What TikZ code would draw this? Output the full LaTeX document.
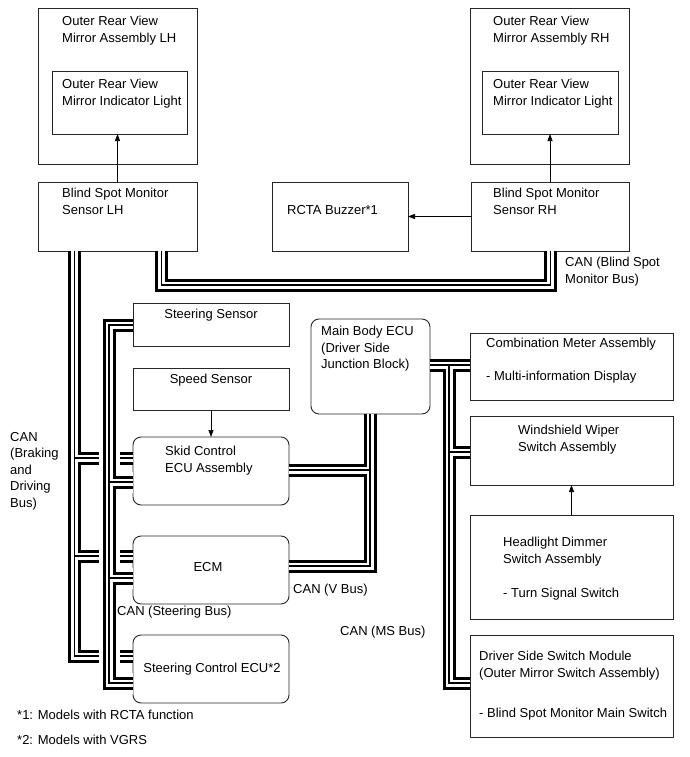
\documentclass[tikz,border=0pt]{standalone}
\usepackage{fontspec}
\setmainfont{Liberation Sans}
\usetikzlibrary{arrows.meta}
\newcommand\busdraw[1]{%
  \draw[line width=13pt,black] #1;
  \draw[line width=7pt,white] #1;
  \draw[line width=1.1pt,black] #1;}
\newcommand\busdrawhalo[1]{%
  \draw[line width=21pt,white] #1;
  \busdraw{#1}}
\begin{document}
\begin{tikzpicture}[x=1pt,y=-1pt,
  box/.style={draw=black!85,line width=0.9pt,inner sep=0pt,outer sep=0pt,anchor=north west},
  rbox/.style={box,rounded corners=8pt},
  txt/.style={inner sep=0pt,anchor=north west,align=left,font=\fontsize{13}{16.5}\selectfont},
  ctxt/.style={txt,anchor=north,align=center},
  arr/.style={line width=0.7pt,-{Triangle[length=7pt,width=5pt]}}]
\useasboundingbox (0,0) rectangle (690,757);

% ---------- boxes (named) ----------
\node[box,minimum width=159pt,minimum height=156pt] (lhout) at (38,8) {};
\node[box,minimum width=135pt,minimum height=63pt] (lhin) at (52,71) {};
\node[box,minimum width=159pt,minimum height=156pt] (rhout) at (470,8) {};
\node[box,minimum width=136pt,minimum height=63pt] (rhin) at (482,71) {};
\node[box,minimum width=159pt,minimum height=69pt] (bsml) at (38,182) {};
\node[box,minimum width=158pt,minimum height=69pt] (bsmr) at (471,182) {};
\node[box,minimum width=136pt,minimum height=69pt] (buzz) at (272,182) {};
\node[box,minimum width=156pt,minimum height=43pt] (steer) at (133,303) {};
\node[box,minimum width=156pt,minimum height=42pt] (speed) at (133,368) {};
\node[rbox,minimum width=156pt,minimum height=68pt] (skid) at (133,437) {};
\node[rbox,minimum width=156pt,minimum height=68pt] (ecm) at (133,536) {};
\node[rbox,minimum width=156pt,minimum height=68pt] (sce) at (133,635) {};
\node[rbox,minimum width=119pt,minimum height=95pt] (mb) at (311,319) {};
\node[box,minimum width=203pt,minimum height=67pt] (cm) at (470,333) {};
\node[box,minimum width=203pt,minimum height=69pt] (ww) at (470,416) {};
\node[box,minimum width=203pt,minimum height=104pt] (hd) at (470,515) {};
\node[box,minimum width=203pt,minimum height=102pt] (ds) at (470,635) {};

% ---------- CAN buses ----------
\coordinate (bs1) at (161.5,285);
\coordinate (bs2) at (550.5,285);
\busdraw{(bs1 |- bsml.south) -- (bs1) -- (bs2) -- (bs2 |- bsmr.south)}

\coordinate (B0) at (74.5,656);
\coordinate (Bk) at (74.5,458);
\coordinate (Be) at (74.5,556);
\busdraw{(B0 |- bsml.south) -- (B0) -- (B0 -| sce.west) (Bk) -- (Bk -| skid.west) (Be) -- (Be -| ecm.west)}

\coordinate (S0) at (109,325);
\coordinate (S1) at (109,683);
\coordinate (Sk) at (109,482);
\coordinate (Se) at (109,578);
\busdrawhalo{(S0 -| steer.west) -- (S0) -- (S1) -- (S1 -| sce.west) (Sk) -- (Sk -| skid.west) (Se) -- (Se -| ecm.west)}

\coordinate (V0) at (370,566);
\coordinate (Vk) at (370,470);
\busdraw{(V0 |- mb.south) -- (V0) -- (V0 -| ecm.east) (Vk) -- (Vk -| skid.east)}

\coordinate (M0) at (449,365);
\coordinate (M1) at (449,683);
\coordinate (Mw) at (449,452);
\busdraw{(M0 -| mb.east) -- (M0 -| cm.west) (M0) -- (M1) -- (M1 -| ds.west) (Mw) -- (Mw -| ww.west)}

% ---------- arrows ----------
\draw[arr] (bsml.north) -- (bsml.north |- lhin.south);
\draw[arr] (bsmr.north) -- (bsmr.north |- rhin.south);
\draw[arr] (bsmr.west) -- (bsmr.west -| buzz.east);
\draw[arr] (speed.south) -- (skid.north);
\draw[arr] (hd.north) -- (ww.south);

% ---------- texts ----------
\node[txt] (t1) at (62,16) {Outer Rear View\\Mirror Assembly LH};
\node[txt] (t2) at (62,79) {Outer Rear View\\Mirror Indicator Light};
\node[txt] (t3) at (493,16) {Outer Rear View\\Mirror Assembly RH};
\node[txt] (t4) at (493,79) {Outer Rear View\\Mirror Indicator Light};
\node[txt] (t5) at (62,188) {Blind Spot Monitor\\Sensor LH};
\node[txt] (t6) at (493,188) {Blind Spot Monitor\\Sensor RH};
\node[txt] (t7) at (287,205) {RCTA Buzzer*1};
\node[txt] (t8) at (565,257) {CAN (Blind Spot\\Monitor Bus)};
\node[ctxt] (t9) at (211,309) {Steering Sensor};
\node[ctxt] (t10) at (211,374) {Speed Sensor};
\node[txt] (t11) at (165,446) {Skid Control\\ECU Assembly};
\node[ctxt] (t12) at (208,562) {ECM};
\node[ctxt] (t13) at (212,663) {Steering Control ECU*2};
\node[txt] (t14) at (321,326) {Main Body ECU\\(Driver Side\\Junction Block)};
\node[txt] (t15) at (486,338) {Combination Meter Assembly};
\node[txt] (t16) at (486,371) {- Multi-information Display};
\node[txt] (t17) at (518,425) {Windshield Wiper\\Switch Assembly};
\node[txt] (t18) at (503,537) {Headlight Dimmer\\Switch Assembly};
\node[txt] (t19) at (503,588) {- Turn Signal Switch};
\node[txt] (t20) at (479,651) {Driver Side Switch Module\\(Outer Mirror Switch Assembly)};
\node[txt] (t21) at (479,708) {- Blind Spot Monitor Main Switch};
\node[txt] (t22) at (17,710) {*1: Models with RCTA function};
\node[txt] (t23) at (17,735) {*2: Models with VGRS};
\node[txt] (t24) at (10,432) {CAN\\(Braking\\and\\Driving\\Bus)};
\node[txt] (t25) at (117,606) {CAN (Steering Bus)};
\node[txt] (t26) at (293,584) {CAN (V Bus)};
\node[txt] (t27) at (340,626) {CAN (MS Bus)};
\end{tikzpicture}
\end{document}
